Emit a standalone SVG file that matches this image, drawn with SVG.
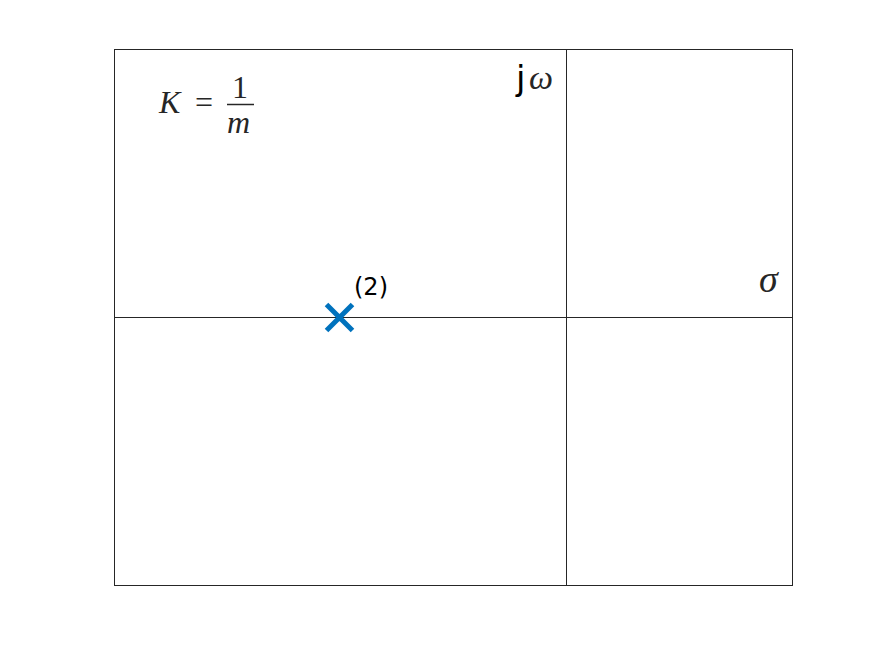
<svg xmlns="http://www.w3.org/2000/svg" width="875" height="656" viewBox="0 0 875 656">
<style>
.ax{stroke:#262626;stroke-width:1;fill:none}
.m{font-family:"Liberation Serif","DejaVu Serif",serif;font-style:italic;fill:#262626}
.r{font-family:"Liberation Serif","DejaVu Serif",serif;fill:#262626}
.s{font-family:"DejaVu Sans",sans-serif;fill:#000}
</style>
<rect width="875" height="656" fill="#fff"/>
<g id="axes">
<rect class="ax" x="114.5" y="49.5" width="678" height="536"/>
<line class="ax" x1="566.5" y1="49.5" x2="566.5" y2="585.5"/>
<line class="ax" x1="114.5" y1="317.5" x2="792.5" y2="317.5"/>
</g>
<g id="pole">
<path d="M326.5 304.5 L352.5 330.5 M352.5 304.5 L326.5 330.5" stroke="#0072BD" stroke-width="5" fill="none"/>
<text class="s" x="354" y="295" font-size="24">(2)</text>
</g>
<g id="labels">
<text class="m" x="159" y="113" font-size="32">K</text>
<text class="r" x="195" y="113" font-size="32">=</text>
<text class="r" x="232" y="98" font-size="32">1</text>
<line x1="227" y1="104.5" x2="254" y2="104.5" stroke="#262626" stroke-width="1.5"/>
<text class="m" x="227" y="133" font-size="32">m</text>
<text class="s" x="516" y="90" font-size="34" fill="#262626">j</text>
<text class="m" x="529" y="89" font-size="34">ω</text>
<text class="m" x="759" y="292" font-size="38">σ</text>
</g>
</svg>
